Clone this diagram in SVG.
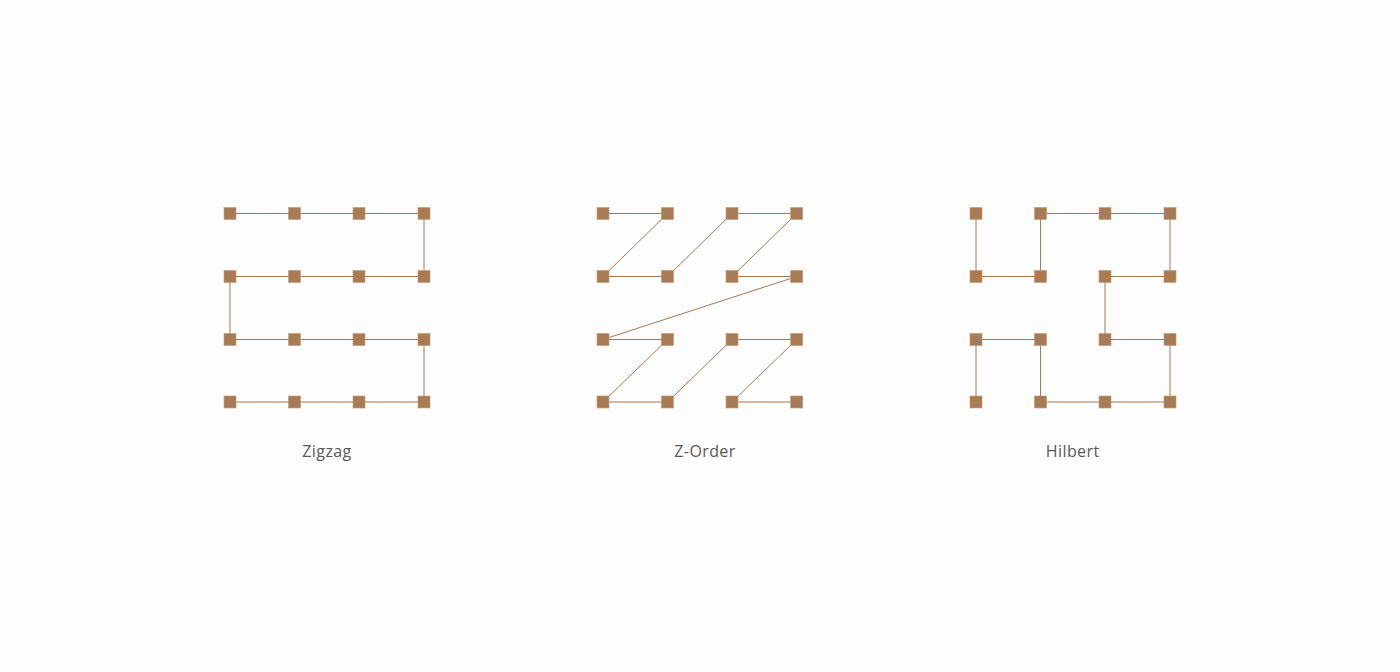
<svg xmlns="http://www.w3.org/2000/svg" width="1400" height="672" viewBox="0 0 1400 672">
<style>
.e{stroke:#a67a52;stroke-width:1;fill:none}
.n{fill:#a97b55;stroke:#c49a74;stroke-width:0.6}
.lbl{font-family:"Open Sans","Liberation Sans",sans-serif;font-size:16px;letter-spacing:0.4px;fill:#585858;text-anchor:middle}
</style>
<defs>
<rect id="sq" x="-6" y="-6" width="12" height="12" class="n"/>
</defs>
<rect width="1400" height="672" fill="#fdfdfd"/>
<g id="connectors">
<!-- Zigzag -->
<polyline class="e" points="230,213.5 294.5,213.5 359,213.5 424,213.5 424,276.5 359,276.5 294.5,276.5 230,276.5 230,339.5 294.5,339.5 359,339.5 424,339.5 424,402 359,402 294.5,402 230,402"/>
<!-- Z-Order -->
<polyline class="e" points="603,213.5 667.5,213.5 603,276.5 667.5,276.5 732,213.5 796.7,213.5 732,276.5 796.7,276.5 603,339.5 667.5,339.5 603,402 667.5,402 732,339.5 796.7,339.5 732,402 796.7,402"/>
<!-- Hilbert -->
<polyline class="e" points="976,213.5 976,276.5 1040.5,276.5 1040.5,213.5 1105,213.5 1170,213.5 1170,276.5 1105,276.5 1105,339.5 1170,339.5 1170,402 1105,402 1040.5,402 1040.5,339.5 976,339.5 976,402"/>
</g>
<g id="zigzag">
<use href="#sq" x="230" y="213.5"/><use href="#sq" x="294.5" y="213.5"/><use href="#sq" x="359" y="213.5"/><use href="#sq" x="424" y="213.5"/>
<use href="#sq" x="230" y="276.5"/><use href="#sq" x="294.5" y="276.5"/><use href="#sq" x="359" y="276.5"/><use href="#sq" x="424" y="276.5"/>
<use href="#sq" x="230" y="339.5"/><use href="#sq" x="294.5" y="339.5"/><use href="#sq" x="359" y="339.5"/><use href="#sq" x="424" y="339.5"/>
<use href="#sq" x="230" y="402"/><use href="#sq" x="294.5" y="402"/><use href="#sq" x="359" y="402"/><use href="#sq" x="424" y="402"/>
<text class="lbl" x="327" y="456.5">Zigzag</text>
</g>
<g id="zorder">
<use href="#sq" x="603" y="213.5"/><use href="#sq" x="667.5" y="213.5"/><use href="#sq" x="732" y="213.5"/><use href="#sq" x="796.7" y="213.5"/>
<use href="#sq" x="603" y="276.5"/><use href="#sq" x="667.5" y="276.5"/><use href="#sq" x="732" y="276.5"/><use href="#sq" x="796.7" y="276.5"/>
<use href="#sq" x="603" y="339.5"/><use href="#sq" x="667.5" y="339.5"/><use href="#sq" x="732" y="339.5"/><use href="#sq" x="796.7" y="339.5"/>
<use href="#sq" x="603" y="402"/><use href="#sq" x="667.5" y="402"/><use href="#sq" x="732" y="402"/><use href="#sq" x="796.7" y="402"/>
<text class="lbl" x="705" y="456.5">Z-Order</text>
</g>
<g id="hilbert">
<use href="#sq" x="976" y="213.5"/><use href="#sq" x="1040.5" y="213.5"/><use href="#sq" x="1105" y="213.5"/><use href="#sq" x="1170" y="213.5"/>
<use href="#sq" x="976" y="276.5"/><use href="#sq" x="1040.5" y="276.5"/><use href="#sq" x="1105" y="276.5"/><use href="#sq" x="1170" y="276.5"/>
<use href="#sq" x="976" y="339.5"/><use href="#sq" x="1040.5" y="339.5"/><use href="#sq" x="1105" y="339.5"/><use href="#sq" x="1170" y="339.5"/>
<use href="#sq" x="976" y="402"/><use href="#sq" x="1040.5" y="402"/><use href="#sq" x="1105" y="402"/><use href="#sq" x="1170" y="402"/>
<text class="lbl" x="1072.7" y="456.5">Hilbert</text>
</g>
</svg>
